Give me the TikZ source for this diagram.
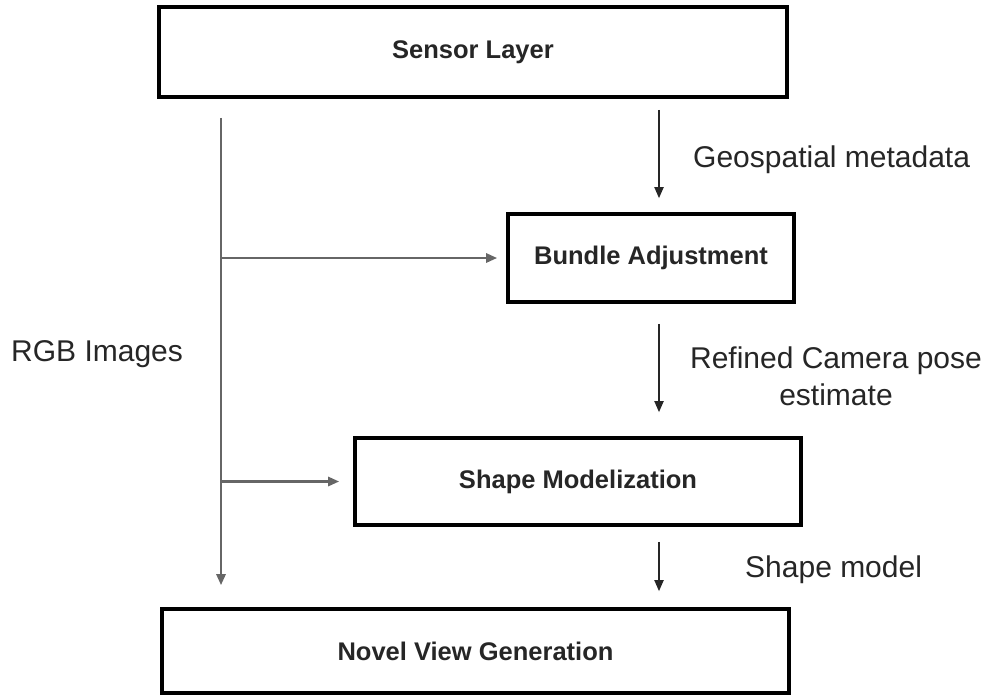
\documentclass[tikz,border=0pt]{standalone}
\usepackage{fontspec}
\setmainfont{Liberation Sans}
\usetikzlibrary{arrows.meta}
\begin{document}
\begin{tikzpicture}[x=1pt,y=-1pt,
  stage/.style={draw=black,line width=3.6pt,fill=white,inner sep=0pt,
    font=\bfseries\fontsize{25.5}{30}\selectfont,text=black!85},
  flow/.style={line width=1.8pt,black!85,-{Triangle[length=11pt,width=9pt]}},
  feed/.style={line width=2.6pt,black!60,-{Triangle[length=11pt,width=9pt]}},
  note/.style={inner sep=0pt,font=\fontsize{30}{37}\selectfont,text=black!85}]
\useasboundingbox (0,0) rectangle (985,698);
\fill[white] (0,0) rectangle (985,698);

% processing stages
\node[stage,minimum width=628pt,minimum height=90pt] (sl) at (473,52) {Sensor Layer};
\node[stage,minimum width=286pt,minimum height=88pt] (ba) at (651,258) {Bundle Adjustment};
\node[stage,minimum width=446pt,minimum height=87pt] (sm) at (578,481.5) {Shape Modelization};
\node[stage,minimum width=627pt,minimum height=84pt] (nv) at (475.5,651) {Novel View Generation};

% image stream on the left
\coordinate (rgb) at (221,118);
\draw[feed,shorten >=22pt] (rgb) -- (nv.north -| rgb);
\draw[feed,shorten >=9pt] (rgb |- ba.west) -- (ba.west);
\draw[feed,shorten >=14pt] (rgb |- sm.west) -- (sm.west);

% main chain on the right
\coordinate (col) at (659,0);
\draw[flow,shorten <=11pt,shorten >=14pt] (sl.south -| col) -- (ba.north -| col);
\draw[flow,shorten <=20pt,shorten >=24pt] (ba.south -| col) -- (sm.north -| col);
\draw[flow,shorten <=15pt,shorten >=16pt] (sm.south -| col) -- (nv.north -| col);

% labels
\node[note,anchor=west] (l1) at (693,160) {Geospatial metadata};
\node[note,align=center] (l2) at (836,376) {Refined Camera pose\\estimate};
\node[note,anchor=west] (l3) at (745,570) {Shape model};
\node[note,anchor=west] (l4) at (11,354) {RGB Images};
\end{tikzpicture}
\end{document}
